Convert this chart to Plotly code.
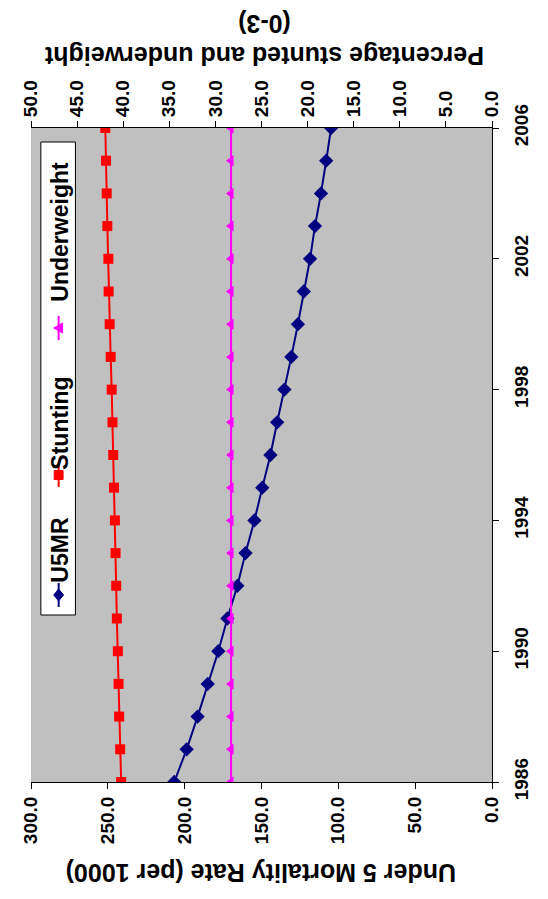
import plotly.graph_objects as go

years = list(range(1986, 2007))
u5mr = [206.8, 198.7, 191.6, 185.0, 178.1, 172.2, 165.7, 160.4, 154.6, 149.5, 144.2,
        139.8, 135.1, 130.6, 126.3, 122.5, 118.4, 115.2, 111.3, 107.9, 104.7]
stunting = [40.22, 40.33, 40.44, 40.50, 40.58, 40.69, 40.76, 40.83, 40.90, 41.00, 41.08,
            41.16, 41.25, 41.36, 41.47, 41.58, 41.61, 41.72, 41.79, 41.86, 41.94]
underweight = [28.3] * 21

u5_ticks = [0, 50, 100, 150, 200, 250, 300]
pct_ticks = [0, 5, 10, 15, 20, 25, 30, 35, 40, 45, 50]
year_ticks = [1986, 1990, 1994, 1998, 2002, 2006]

W, H = 548, 899
OFF = 8  # page body margin offset
L, R, T, B = 25 - OFF, 492 - OFF, 128 - OFF, 782 - OFF
PW, PH = R - L, B - T

def px(x):
    return (x - OFF - L) / PW

def py(y):
    return (B - (y - OFF)) / PH

FONT = "Liberation Sans, Arial, sans-serif"
NAVY, RED, MAG = "#000080", "#FF0000", "#FF00FF"

fig = go.Figure()
fig.add_trace(go.Scatter(x=u5mr, y=years, name="U5MR", mode="lines+markers",
                         line=dict(color=NAVY, width=2),
                         marker=dict(symbol="diamond", size=11, color=NAVY),
                         xaxis="x", yaxis="y", showlegend=False))
fig.add_trace(go.Scatter(x=stunting, y=years, name="Stunting", mode="lines+markers",
                         line=dict(color=RED, width=2),
                         marker=dict(symbol="square", size=10, color=RED),
                         xaxis="x2", yaxis="y", showlegend=False))
fig.add_trace(go.Scatter(x=underweight, y=years, name="Underweight", mode="lines+markers",
                         line=dict(color=MAG, width=2),
                         marker=dict(symbol="triangle-left", size=10, color=MAG),
                         xaxis="x2", yaxis="y", showlegend=False))

tickfont = dict(family=FONT, size=19, color="black", weight="bold")
axis_common = dict(showgrid=False, zeroline=False, showline=True, linecolor="black",
                   linewidth=1, ticks="outside", ticklen=6, tickcolor="black",
                   tickfont=tickfont, tickangle=-90)

fig.update_layout(
    width=W, height=H,
    margin=dict(l=L, r=W - R, t=T, b=H - B, pad=0),
    paper_bgcolor="white", plot_bgcolor="#C0C0C0",
    showlegend=False,
    xaxis=dict(range=[300, 0], tickvals=u5_ticks,
               ticktext=[f"{v:.1f}" for v in u5_ticks], side="bottom", **axis_common),
    xaxis2=dict(range=[50, 0], tickvals=pct_ticks,
                ticktext=[f"{v:.1f}" for v in pct_ticks], side="top",
                overlaying="x", anchor="y", **axis_common),
    yaxis=dict(range=[1986, 2006], tickvals=year_ticks, side="right",
               ticklabelstandoff=6, **axis_common),
)

ann_font = dict(family=FONT, size=25, color="black", weight="bold")
fig.add_annotation(text="Under 5 Mortality Rate (per 1000)", textangle=180,
                   xref="paper", yref="paper", x=px(258), y=py(873),
                   showarrow=False, font=ann_font, xanchor="center", yanchor="middle")
fig.add_annotation(text="Percentage stunted and underweight<br>(0-3)", textangle=180,
                   xref="paper", yref="paper", x=px(261), y=py(40),
                   showarrow=False, font=ann_font, xanchor="center", yanchor="middle")

# legend (rotated)
fig.add_shape(type="rect", xref="paper", yref="paper",
              x0=px(35), x1=px(70), y0=py(615), y1=py(142),
              fillcolor="white", line=dict(color="black", width=1), layer="above")
leg_font = dict(family=FONT, size=23, color="black", weight="bold")
legend_items = [("U5MR", NAVY, "diamond", 595, 550),
                ("Stunting", RED, "square", 475, 423),
                ("Underweight", MAG, "triangle", 328, 232)]
gx = 53
for name, col, sym, gy, ty in legend_items:
    fig.add_shape(type="line", xref="paper", yref="paper",
                  x0=px(gx), x1=px(gx), y0=py(gy - 12), y1=py(gy + 12),
                  line=dict(color=col, width=2), layer="above")
    if sym == "diamond":
        path = (f"M {px(gx)},{py(gy-6)} L {px(gx+5)},{py(gy)} "
                f"L {px(gx)},{py(gy+6)} L {px(gx-5)},{py(gy)} Z")
    elif sym == "square":
        path = (f"M {px(gx-4.5)},{py(gy-4.5)} L {px(gx+4.5)},{py(gy-4.5)} "
                f"L {px(gx+4.5)},{py(gy+4.5)} L {px(gx-4.5)},{py(gy+4.5)} Z")
    else:
        path = (f"M {px(gx-5)},{py(gy)} L {px(gx+4)},{py(gy-5)} "
                f"L {px(gx+4)},{py(gy+5)} Z")
    fig.add_shape(type="path", xref="paper", yref="paper", path=path,
                  fillcolor=col, line=dict(color=col, width=1), layer="above")
    fig.add_annotation(text=name, textangle=-90, xref="paper", yref="paper",
                       x=px(54), y=py(ty), showarrow=False, font=leg_font,
                       xanchor="center", yanchor="middle")

fig.write_html("out.html")
